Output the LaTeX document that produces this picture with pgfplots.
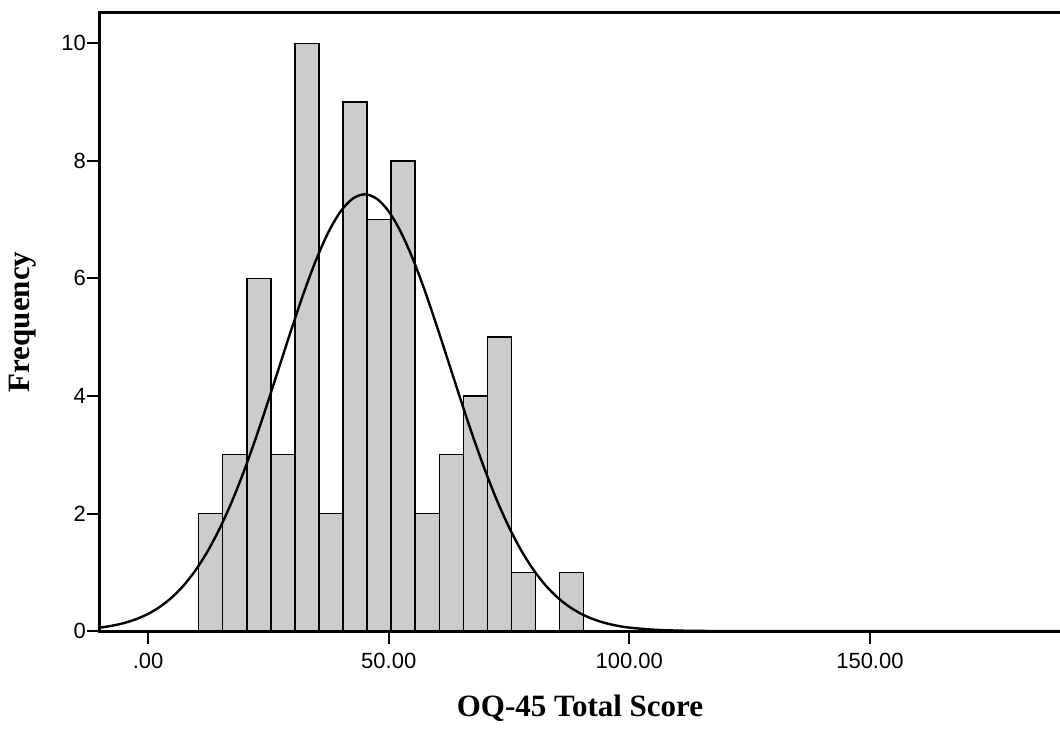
\documentclass[border=0pt]{standalone}
\usepackage{fontspec}
\setmainfont{Liberation Serif}
\newfontfamily\ticksans{Liberation Sans}
\usepackage{pgfplots}
\pgfplotsset{compat=1.18}

\begin{document}
\begin{tikzpicture}
\begin{axis}[
  scale only axis,
  width=480pt, height=309.2pt,
  xmin=-10, xmax=189.5,
  ymin=0, ymax=10.52,
  axis x line*=box, axis y line*=left,
  axis line style={line width=1.5pt, line cap=rect},
  xtick={0,50,100,150},
  xticklabels={.00,50.00,100.00,150.00},
  xtick pos=bottom,
  ytick={0,2,4,6,8,10},
  tick align=outside,
  major tick length=6.5pt,
  every tick/.style={black, line width=1pt},
  tick label style={font=\ticksans\fontsize{11}{13}\selectfont},
  yticklabel style={xshift=3pt},
  xticklabel style={yshift=-1pt},
  /pgf/number format/assume math mode=true,
  xlabel={OQ-45 Total Score},
  ylabel={Frequency},
  every axis x label/.style={at={(axis description cs:0.5,-0.1245)}, anchor=center,
    font=\bfseries\fontsize{15.5}{18}\selectfont},
  every axis y label/.style={at={(axis description cs:-0.0802,0.5)}, rotate=90, anchor=center,
    font=\bfseries\fontsize{15.5}{18}\selectfont},
]
% histogram, bins of width 5 starting at 10.5
\addplot[ybar interval, fill=black!20, draw=black, line width=0.75pt]
  coordinates {(10.5,2) (15.5,3) (20.5,6) (25.5,3) (30.5,10) (35.5,2) (40.5,9) (45.5,7)
               (50.5,8) (55.5,2) (60.5,3) (65.5,4) (70.5,5) (75.5,1) (80.5,0) (85.5,1) (90.5,0)};

% normal curve (mean ~45, sd ~17.7, n=66)
\addplot[black, line width=1.2pt, smooth]
  coordinates {(-10,0.059) (-7.5,0.091) (-5,0.137) (-2.5,0.203) (0,0.293) (2.5,0.416)
   (5,0.578) (7.5,0.787) (10,1.052) (12.5,1.377) (15,1.767) (17.5,2.222) (20,2.740)
   (22.5,3.312) (25,3.925) (27.5,4.558) (30,5.188) (32.5,5.791) (35,6.334) (37.5,6.792)
   (40,7.140) (42.5,7.356) (45,7.430) (47.5,7.356) (50,7.140) (52.5,6.792) (55,6.334)
   (57.5,5.791) (60,5.188) (62.5,4.558) (65,3.925) (67.5,3.312) (70,2.740) (72.5,2.222)
   (75,1.767) (77.5,1.377) (80,1.052) (82.5,0.787) (85,0.578) (87.5,0.416) (90,0.293)
   (92.5,0.203) (95,0.137) (97.5,0.091) (100,0.059) (105,0.024) (110,0.009) (115,0.003)
   (120,0.001) (130,0) (189.5,0)};

\coordinate (SW) at (rel axis cs:0,0);
\coordinate (NE) at (rel axis cs:1,1);
\end{axis}
\pgfresetboundingbox
\path ([shift={(-50pt,-48.5pt)}]SW) rectangle ([shift={(0pt,6.35pt)}]NE);
\end{tikzpicture}
\end{document}
